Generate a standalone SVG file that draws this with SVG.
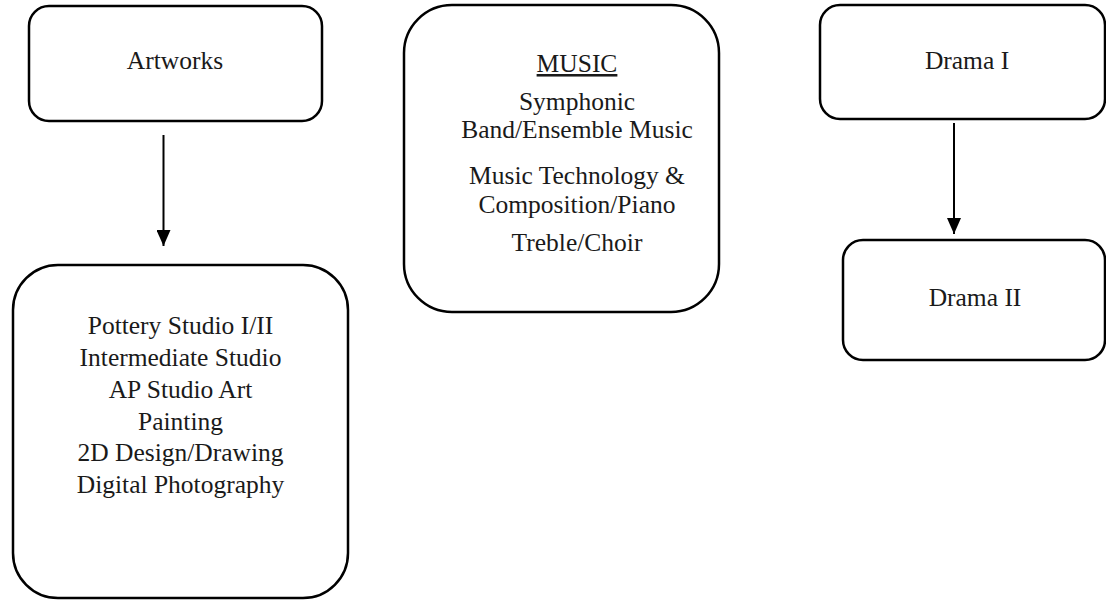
<svg xmlns="http://www.w3.org/2000/svg" width="1106" height="600" viewBox="0 0 1106 600">
  <style>
    .box { fill: #ffffff; stroke: #000000; stroke-width: 2.5; }
    .lbl { font-family: "Liberation Serif", "DejaVu Serif", serif; font-size: 25.5px; fill: #1a1a1a; text-anchor: middle; }
    .link { stroke: #000000; stroke-width: 2; fill: none; marker-end: url(#head); }
  </style>
  <defs>
    <marker id="head" viewBox="0 0 16 14" refX="16" refY="7" markerWidth="16" markerHeight="14" markerUnits="userSpaceOnUse" orient="auto">
      <path d="M0,0 L16,7 L0,14 Z" fill="#000000"/>
    </marker>
  </defs>
  <rect width="1106" height="600" fill="#ffffff"/>

  <g id="connectors">
    <line class="link" x1="163.5" y1="135" x2="163.5" y2="246"/>
    <line class="link" x1="954" y1="123" x2="954" y2="234"/>
  </g>

  <g id="artworks">
    <rect class="box" x="29" y="6" width="293" height="115" rx="20" ry="20"/>
    <text class="lbl" x="175" y="69">Artworks</text>
  </g>

  <g id="art-courses">
    <rect class="box" x="13" y="265" width="335" height="333" rx="45" ry="45"/>
    <text class="lbl" x="180.5" y="334">Pottery Studio I/II</text>
    <text class="lbl" x="180.5" y="366">Intermediate Studio</text>
    <text class="lbl" x="180.5" y="398">AP Studio Art</text>
    <text class="lbl" x="180.5" y="430">Painting</text>
    <text class="lbl" x="180.5" y="461">2D Design/Drawing</text>
    <text class="lbl" x="180.5" y="493">Digital Photography</text>
  </g>

  <g id="music">
    <rect class="box" x="404" y="5" width="315" height="307" rx="48" ry="48"/>
    <text class="lbl" x="577" y="72" text-decoration="underline">MUSIC</text>
    <text class="lbl" x="577" y="110">Symphonic</text>
    <text class="lbl" x="577" y="138">Band/Ensemble Music</text>
    <text class="lbl" x="577" y="184">Music Technology &amp;</text>
    <text class="lbl" x="577" y="213">Composition/Piano</text>
    <text class="lbl" x="577" y="251">Treble/Choir</text>
  </g>

  <g id="drama-1">
    <rect class="box" x="820" y="5" width="285" height="114" rx="20" ry="20"/>
    <text class="lbl" x="967" y="69">Drama I</text>
  </g>

  <g id="drama-2">
    <rect class="box" x="843" y="240" width="262" height="120" rx="20" ry="20"/>
    <text class="lbl" x="975" y="306">Drama II</text>
  </g>
</svg>
